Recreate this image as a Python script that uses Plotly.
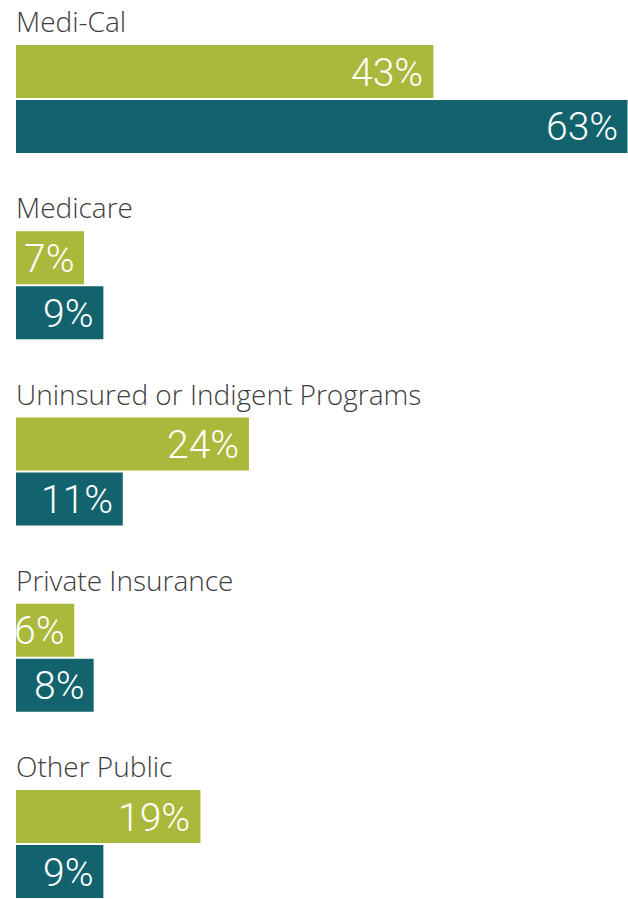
import plotly.graph_objects as go
from plotly.subplots import make_subplots

categories = ["Medi-Cal", "Medicare", "Uninsured or Indigent Programs", "Private Insurance", "Other Public"]
series_a = [43, 7, 24, 6, 19]   # olive bars
series_b = [63, 9, 11, 8, 9]    # teal bars
series_names = ["A", "B"]

OLIVE = "#AAB83B"
TEAL = "#12636D"
LABEL_COLOR = "#3d3d3d"
VAL_FONT = "Roboto, sans-serif"
LAB_FONT = "Open Sans, sans-serif"

n = len(categories)
fig = make_subplots(rows=n, cols=1, shared_xaxes=False, vertical_spacing=0.0892)

for i, cat in enumerate(categories):
    r = i + 1
    fig.add_trace(
        go.Bar(
            y=series_names,
            x=[series_a[i], series_b[i]],
            orientation="h",
            marker=dict(color=[OLIVE, TEAL], line=dict(width=0)),
            showlegend=False,
            hoverinfo="x",
        ),
        row=r, col=1,
    )
    yref = "y" if r == 1 else f"y{r}"
    xref = "x" if r == 1 else f"x{r}"
    fig.add_annotation(
        text=cat, xref="paper", x=0, xanchor="left", xshift=-2,
        yref=f"{yref} domain", y=1, yanchor="bottom", yshift=2,
        showarrow=False,
        font=dict(family=LAB_FONT, size=28, color=LABEL_COLOR, weight=300),
    )
    for name, val in zip(series_names, [series_a[i], series_b[i]]):
        fig.add_annotation(
            text=f"{val}%", xref=xref, x=val, xanchor="right", xshift=-8,
            yref=yref, y=name, yanchor="middle", yshift=-1,
            showarrow=False,
            font=dict(family=VAL_FONT, size=39, color="white", weight=300),
        )
    fig.update_xaxes(range=[0, 63.05], visible=False, fixedrange=True, row=r, col=1)
    fig.update_yaxes(visible=False, fixedrange=True, autorange="reversed", categoryorder="array",
                     categoryarray=series_names, row=r, col=1)

fig.update_layout(
    width=628, height=899,
    margin=dict(l=16, r=0, t=44, b=0),
    paper_bgcolor="white", plot_bgcolor="white",
    bargap=0.036,
    showlegend=False,
)

fig.write_html("out.html", config={"displayModeBar": False},
               post_script="document.body.style.margin='0';document.body.style.overflow='hidden';")
